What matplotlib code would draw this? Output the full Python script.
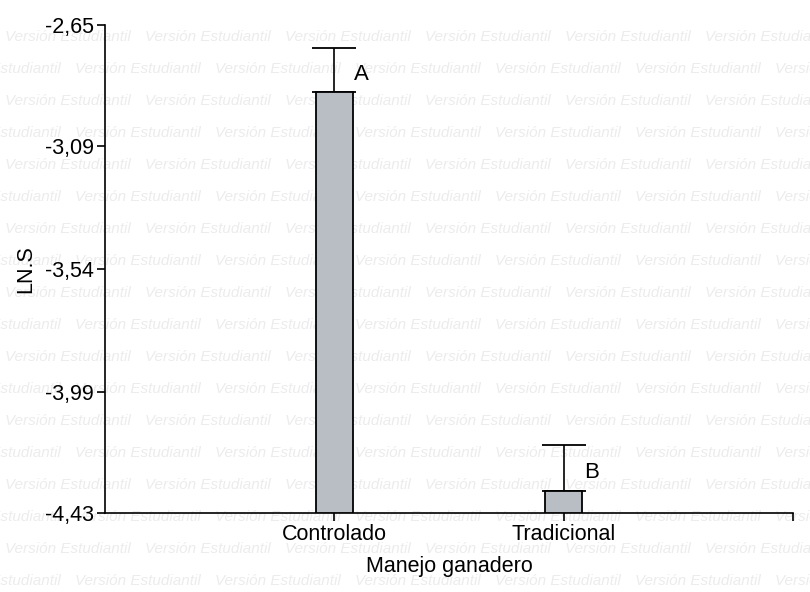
import matplotlib.pyplot as plt

# Datos
categorias = ["Controlado", "Tradicional"]
medias = [-2.895, -4.351]
error_sup = [0.161, 0.168]
letras = ["A", "B"]
yticks = [-2.65, -3.09, -3.54, -3.99, -4.43]

plt.rcParams["font.family"] = ["Liberation Sans", "DejaVu Sans"]

fig = plt.figure(figsize=(8.1, 5.92), dpi=100)

# Marca de agua "Versión Estudiantil" (detrás del gráfico)
for i in range(19):
    y = 1 - (37 + i * 32) / 592
    x0 = 5 if i % 2 == 0 else -65
    for j in range(7):
        fig.text((x0 + j * 140) / 810, y, "Versión Estudiantil", fontsize=11,
                 style="italic", color="#ececec",
                 va="center", ha="left", zorder=0)

ax = fig.add_axes([105 / 810, 1 - 513 / 592, (793 - 105) / 810, (513 - 25) / 592])
ax.set_zorder(1)
ax.patch.set_alpha(0)

x = list(range(len(categorias)))
base = yticks[-1]
ax.bar(x, [m - base for m in medias], bottom=base, width=0.16,
       color="#b8bec4", edgecolor="black", linewidth=1.3, zorder=3)
ax.errorbar(x, medias, yerr=[[0, 0], error_sup], fmt="none", ecolor="black",
            elinewidth=1.2, capsize=16, capthick=1.3, zorder=2)

for xi, m, e, l in zip(x, medias, error_sup, letras):
    ax.text(xi + 0.12, m + e * 0.4, l, fontsize=16, ha="center", va="center")

ax.set_xlim(-1, 2)
ax.set_ylim(yticks[-1], yticks[0])
ax.set_yticks(yticks)
ax.set_yticklabels([f"{v:.2f}".replace(".", ",") for v in yticks])
ax.set_xticks([0, 1, 2])
ax.set_xticklabels(categorias + [""])

ax.spines["top"].set_visible(False)
ax.spines["right"].set_visible(False)
ax.spines["left"].set_linewidth(1.2)
ax.spines["bottom"].set_linewidth(1.2)
ax.tick_params(axis="both", labelsize=15.5, length=6, width=1.2, pad=2)

ax.set_xlabel("Manejo ganadero", fontsize=15.5, labelpad=8)
ax.set_ylabel("LN.S", fontsize=15.5, labelpad=6)

fig.savefig("out.png", dpi=100)
